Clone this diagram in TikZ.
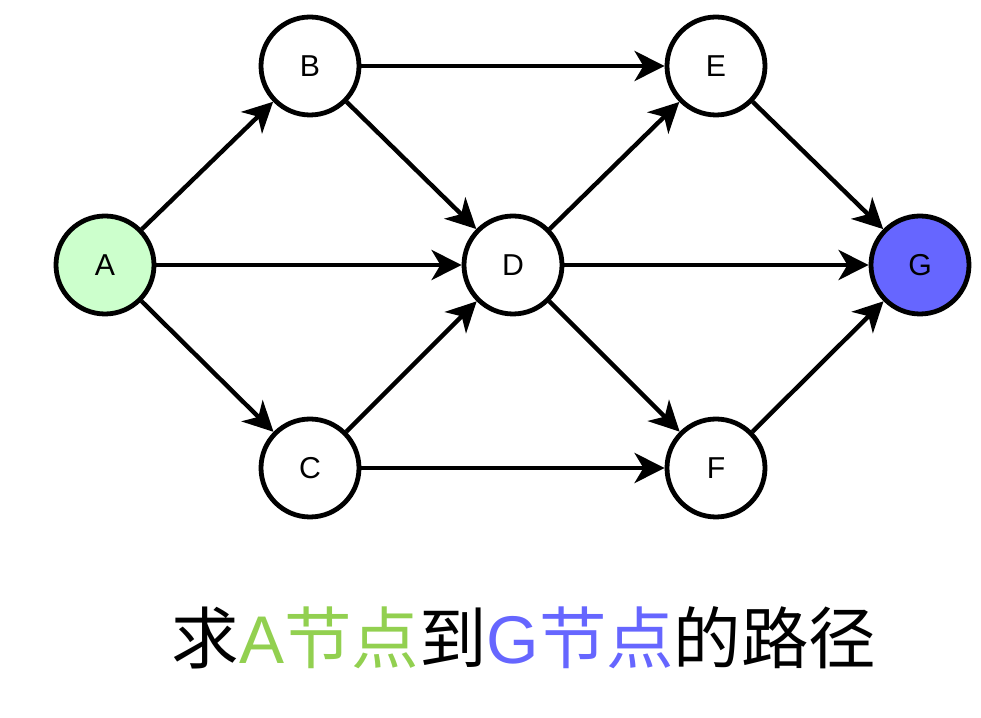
\documentclass[tikz,border=0pt]{standalone}
\usepackage{fontspec}
\setmainfont{Liberation Sans}
\newfontfamily\cjk{Noto Sans CJK SC}
\usetikzlibrary{arrows.meta}
\definecolor{startgreen}{HTML}{CCFFCC}
\definecolor{goalblue}{HTML}{6666FF}
\definecolor{textgreen}{HTML}{92D050}
\begin{document}
\begin{tikzpicture}[
        vertex/.style={circle, draw, line width=0.12cm, minimum size=2.45cm, inner sep=0pt, font=\fontsize{21.5}{25}\selectfont},
        arrow/.style={-{Stealth[length=0.75cm, width=0.75cm, inset=0.22cm]}, line width=0.11cm}
    ]
        \useasboundingbox (0,0) rectangle (24.525,17.95);
        \node[vertex, fill=startgreen] (a) at (2.625,11.325) {A};
        \node[vertex] (b) at (7.75,16.3) {B};
        \node[vertex] (c) at (7.75,6.25) {C};
        \node[vertex] (d) at (12.825,11.325) {D};
        \node[vertex] (e) at (17.9,16.3) {E};
        \node[vertex] (f) at (17.9,6.25) {F};
        \node[vertex, fill=goalblue] (g) at (23,11.325) {G};
        
        \draw[arrow] (a) -- (b);
        \draw[arrow] (a) -- (d);
        \draw[arrow] (a) -- (c);
        \draw[arrow] (b) -- (e);
        \draw[arrow] (b) -- (d);
        \draw[arrow] (c) -- (d);
        \draw[arrow] (c) -- (f);
        \draw[arrow] (d) -- (e);
        \draw[arrow] (d) -- (g);
        \draw[arrow] (d) -- (f);
        \draw[arrow] (e) -- (g);
        \draw[arrow] (f) -- (g);
        
        \node[font=\fontsize{48}{52}\selectfont] (caption) at (13.1,2.0) {{\cjk 求}\textcolor{textgreen}{A{\cjk 节点}}{\cjk 到}\textcolor{goalblue}{G{\cjk 节点}}{\cjk 的路径}};
    \end{tikzpicture}
\end{document}
